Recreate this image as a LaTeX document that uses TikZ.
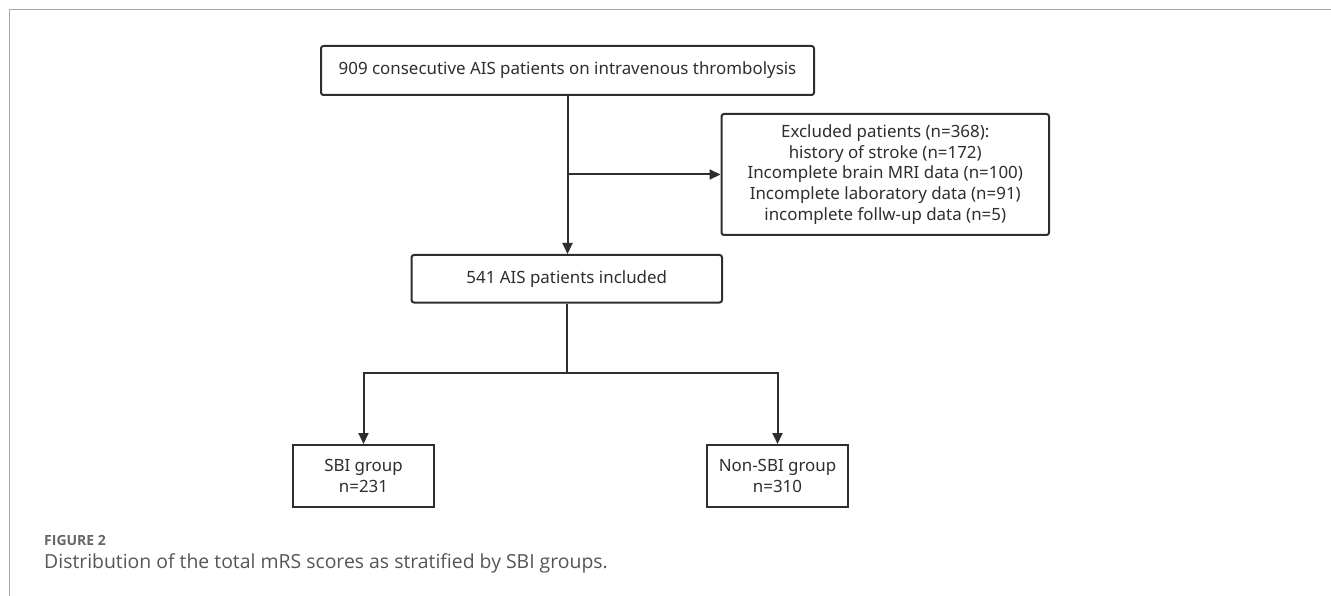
\documentclass[tikz,border=0pt]{standalone}
\usepackage{fontspec}
\setmainfont{Noto Sans}
\newfontfamily\capfont{Open Sans}
\usetikzlibrary{arrows.meta}
\definecolor{ink}{HTML}{2E2E2E}
\definecolor{frame}{HTML}{A8A8A8}
\definecolor{captxt}{HTML}{555555}
\tikzset{
  box/.style={draw=ink, line width=2pt, text=ink, align=center, inner sep=0pt,
    font=\fontsize{16.9}{20.7}\selectfont},
  rbox/.style={box, rounded corners=2.5pt},
  conn/.style={draw=ink, line width=2pt},
  arr/.style={conn, -{Triangle[length=11pt,width=10pt]}}
}
\begin{document}
\begin{tikzpicture}[x=1pt,y=-1pt]
\useasboundingbox (0,0) rectangle (1331,596);
\draw[frame, line width=1.5pt] (9.5,596) -- (9.5,9.5) -- (1331,9.5);
\node[rbox, minimum width=493pt, minimum height=49pt] (top) at (567.5,70.5)
  {909 consecutive AIS patients on intravenous thrombolysis};
\node[rbox, minimum width=327.5pt, minimum height=121pt] (excl) at (885.25,174.5)
  {Excluded patients (n=368):\\history of stroke (n=172)\\Incomplete brain MRI data (n=100)\\Incomplete laboratory data (n=91)\\incomplete follw-up data (n=5)};
\node[rbox, minimum width=310.5pt, minimum height=47.5pt] (incl) at (566.75,278.75)
  {541 AIS patients included};
\node[box, minimum width=141pt, minimum height=62pt] (sbi) at (363.5,476)
  {SBI group\\n=231};
\node[box, minimum width=141pt, minimum height=62pt] (non) at (777.5,476)
  {Non-SBI group\\n=310};
\coordinate (branch) at (top.south |- excl.west);
\coordinate (split) at (566.75,373);
\draw[arr] (top.south) -- (top.south |- incl.north);
\draw[arr] (branch) -- (excl.west);
\draw[conn] (incl.south) -- (split);
\draw[arr] (split) -| (sbi.north);
\draw[arr] (split) -| (non.north);
\node[anchor=west, inner sep=0pt, text=captxt!90, font=\capfont\bfseries\fontsize{14}{16}\selectfont] (figlabel) at (44,540) {FIGURE 2};
\node[anchor=west, inner sep=0pt, text=captxt, font=\capfont\fontsize{19.4}{22}\selectfont] (caption) at (44,563) {Distribution of the total mRS scores as stratified by SBI groups.};
\end{tikzpicture}
\end{document}
